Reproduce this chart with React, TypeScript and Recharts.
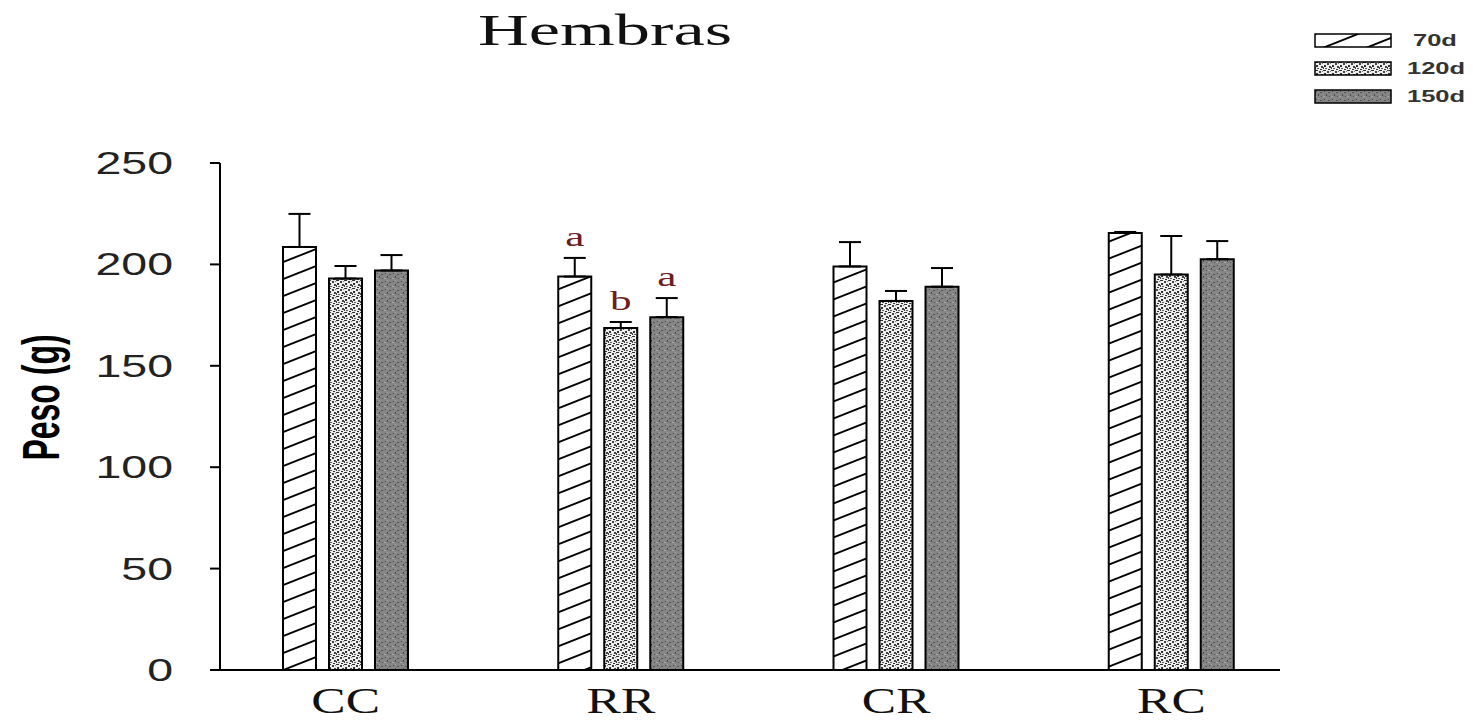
import React from "react"
import { BarChart, Bar, XAxis, YAxis, ErrorBar, LabelList } from "recharts"

// values (weight in g)
const categories = ["CC", "RR", "CR", "RC"]
const days70 = [208.6, 194, 199, 215.5]
const days120 = [193, 168.6, 182, 195]
const days150 = [197, 174, 189, 202.6]
const err70 = [16.3, 9.2, 12, 0.5]
const err120 = [6.2, 3, 4.9, 19]
const err150 = [7.6, 9.4, 9.2, 8.9]
// significance letters (only RR has them)
const letters70 = ["", "a", "", ""]
const letters120 = ["", "b", "", ""]
const letters150 = ["", "a", "", ""]
const yTicks = [0, 50, 100, 150, 200, 250]
const seriesNames = ["70d", "120d", "150d"]
const patternIds = ["p70", "p120", "p150"]

const data = categories.map((name, i) => ({
  name,
  d70: days70[i],
  d120: days120[i],
  d150: days150[i],
  e70: [0, err70[i]],
  e120: [0, err120[i]],
  e150: [0, err150[i]],
  l70: letters70[i],
  l120: letters120[i],
  l150: letters150[i],
}))

const SANS = "'Liberation Sans', Arial, sans-serif"
const SERIF = "'Liberation Serif', 'Times New Roman', serif"

function YTick({ x, y, payload }: any) {
  return (
    <text
      transform={`translate(${x},${y}) scale(1.5,1)`}
      textAnchor="end"
      dominantBaseline="central"
      fontFamily={SANS}
      fontSize={31}
      fill="#222"
    >
      {payload.value}
    </text>
  )
}

function XTick({ x, y, payload }: any) {
  return (
    <text
      transform={`translate(${x},${y + 43}) scale(1.47,1)`}
      textAnchor="middle"
      fontFamily={SERIF}
      fontSize={35}
      fill="#111"
    >
      {payload.value}
    </text>
  )
}

function YLabel({ viewBox }: any) {
  const cx = viewBox.x + 41
  const cy = viewBox.y + viewBox.height / 2 - 19
  return (
    <text
      transform={`translate(${cx},${cy}) rotate(-90) scale(1,1.6)`}
      textAnchor="middle"
      dominantBaseline="central"
      fontFamily={SANS}
      fontWeight="bold"
      fontSize={32}
      fill="#000"
    >
      Peso (g)
    </text>
  )
}

function makeSigLabel(values: number[], errs: number[]) {
  return (props: any) => {
    const { x, y, width, height, value, index } = props
    if (!value) return null
    const errTop = y - (errs[index] * height) / values[index]
    return (
      <text
        transform={`translate(${x + width / 2},${errTop - 12}) scale(1.6,1)`}
        textAnchor="middle"
        fontFamily={SERIF}
        fontSize={27}
        fill="#6e1c1c"
      >
        {value}
      </text>
    )
  }
}

function Patterns() {
  return (
    <defs>
      <pattern id="p70" patternUnits="userSpaceOnUse" width={43} height={17}>
        <rect width={43} height={17} fill="#fff" />
        <path d="M-4,18.6 L47,-1.6 M-4,1.6 L4,-1.6 M39,18.6 L47,15.4" stroke="#000" strokeWidth={1.9} />
      </pattern>
      <pattern id="p120" patternUnits="userSpaceOnUse" width={8} height={8}>
        <rect width={8} height={8} fill="#eeeeee" />
        <rect x={0} y={0} width={3} height={1} fill="#333" />
        <rect x={4} y={1} width={2} height={2} fill="#444" />
        <rect x={1} y={3} width={2} height={2} fill="#333" />
        <rect x={6} y={4} width={2} height={2} fill="#444" />
        <rect x={2} y={6} width={2} height={1} fill="#555" />
        <rect x={5} y={7} width={2} height={1} fill="#333" />
        <rect x={0} y={5} width={1} height={2} fill="#444" />
        <rect x={7} y={1} width={1} height={1} fill="#777" />
      </pattern>
      <pattern id="p150" patternUnits="userSpaceOnUse" width={8} height={8}>
        <rect width={8} height={8} fill="#858585" />
        <rect x={1} y={1} width={1} height={1} fill="#4a4a4a" />
        <rect x={5} y={2} width={2} height={1} fill="#555" />
        <rect x={3} y={4} width={1} height={2} fill="#4a4a4a" />
        <rect x={6} y={6} width={1} height={1} fill="#555" />
        <rect x={0} y={6} width={2} height={1} fill="#a5a5a5" />
        <rect x={3} y={0} width={1} height={1} fill="#a5a5a5" />
      </pattern>
    </defs>
  )
}

export default function App() {
  return (
    <div style={{ position: "absolute", left: 0, top: 0, width: 1473, height: 721, background: "#fff" }}>
      <BarChart
        width={1473}
        height={721}
        data={data}
        margin={{ top: 163, right: 193, bottom: 0, left: 0 }}
        barGap={13}
      >
        <Patterns />
        <XAxis
          dataKey="name"
          height={51}
          padding={{ left: -12, right: -29 }}
          axisLine={{ stroke: "#000", strokeWidth: 2 }}
          tickLine={false}
          tickSize={0}
          tickMargin={0}
          tick={<XTick />}
          interval={0}
        />
        <YAxis
          width={220}
          domain={[0, 250]}
          ticks={yTicks}
          axisLine={{ stroke: "#000", strokeWidth: 2 }}
          tickLine={{ stroke: "#000", strokeWidth: 2 }}
          tickSize={10}
          tickMargin={37}
          tick={<YTick />}
          label={<YLabel />}
        />
        <Bar dataKey="d70" name={seriesNames[0]} fill="url(#p70)" stroke="#000" strokeWidth={2} barSize={33} isAnimationActive={false}>
          <ErrorBar dataKey="e70" width={11} strokeWidth={2} stroke="#000" isAnimationActive={false} />
          <LabelList dataKey="l70" content={makeSigLabel(days70, err70)} />
        </Bar>
        <Bar dataKey="d120" name={seriesNames[1]} fill="url(#p120)" stroke="#000" strokeWidth={2} barSize={33} isAnimationActive={false}>
          <ErrorBar dataKey="e120" width={11} strokeWidth={2} stroke="#000" isAnimationActive={false} />
          <LabelList dataKey="l120" content={makeSigLabel(days120, err120)} />
        </Bar>
        <Bar dataKey="d150" name={seriesNames[2]} fill="url(#p150)" stroke="#000" strokeWidth={2} barSize={33} isAnimationActive={false}>
          <ErrorBar dataKey="e150" width={11} strokeWidth={2} stroke="#000" isAnimationActive={false} />
          <LabelList dataKey="l150" content={makeSigLabel(days150, err150)} />
        </Bar>
      </BarChart>

      {/* title and legend sit outside the plot area */}
      <svg width={1473} height={130} style={{ position: "absolute", left: 0, top: 0, pointerEvents: "none" }}>
        <text
          transform="translate(605,45) scale(1.6,1)"
          textAnchor="middle"
          fontFamily={SERIF}
          fontSize={44}
          fill="#111"
        >
          Hembras
        </text>
        {seriesNames.map((s, i) => (
          <g key={s} transform={`translate(1315,${34 + i * 28})`}>
            <rect width={76} height={13} fill={`url(#${patternIds[i]})`} stroke="#000" strokeWidth={1.5} />
            <text
              transform={`translate(${i === 0 ? 98 : 92},12) scale(1.5,1)`}
              fontFamily={SANS}
              fontWeight="bold"
              fontSize={17}
              fill="#333"
            >
              {s}
            </text>
          </g>
        ))}
      </svg>
    </div>
  )
}
